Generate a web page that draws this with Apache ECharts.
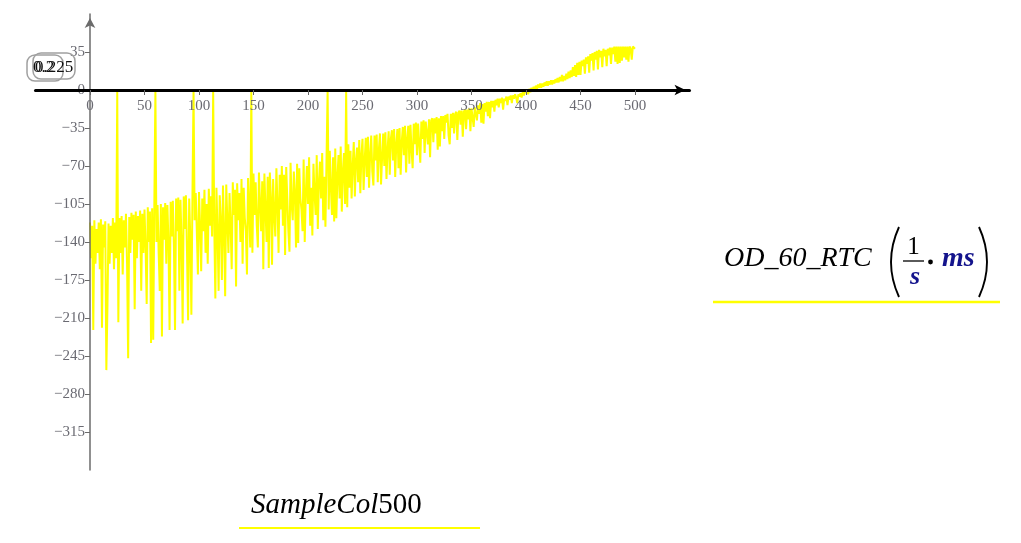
<!DOCTYPE html>
<html>
<head>
<meta charset="utf-8">
<script src="https://cdn.jsdelivr.net/npm/echarts@6/dist/echarts.min.js"></script>
<style>
  html, body { margin: 0; padding: 0; background: #ffffff; }
  #chart { width: 1021px; height: 543px; }
</style>
</head>
<body>
<div id="chart"></div>
<script>
// ---- Data ----
const xTitleItalic = 'SampleCol';
const xTitleUpright = '500';
const yTitle = 'OD_60_RTC';
const yUnitTop = '1';
const yUnitBottom = 's';
const yUnitRight = 'ms';
const traceLabels = ['0.2', '0.225'];

// OD_60_RTC values, one per sample (index 0..500)
const odValues = [
  -122, -155, -125, -221, -120, -160, -128, -150, -122, -165, -119, -219, -124, -145, -121, -258, -200, -123, -160, -125, -150, -118, -165, -122, -155,
  0, -214, -118, -150, -116, -170, -120, -145, -114, -160, -247, -117, -150, -113, -138, -115, -202, -112, -155, -116, -140, -111, -185, -114, -150,
  -110, -145, -197, -108, -140, -112, -233, -109, -230, -107, 0, -140, -106, -150, -185, -105, -227, -108, -138, -104, -160, -106, -140, -221, -103,
  -135, -102, -145, -221, -100, -130, -99, -185, -101, -140, -215, -98, -128, -97, -150, -212, -100, -135, -207, -96, 0, -120, -95, -130, -170,
  -94, -125, -167, -100, -130, -92, -150, -105, -160, -91, -125, -98, -135, 0, -125, -192, -90, -130, -185, -97, -120, -175, -88, -130, -190,
  -87, -120, -150, -95, -125, -165, -85, -115, -92, -181, -86, -120, -95, -140, -82, -160, -90, -118, -130, -170, -81, -110, -145, 0, -150,
  -77, -115, -85, -125, -145, -76, -105, -130, -84, -165, -77, -110, -140, -80, -164, -76, -100, -161, -82, -115, -135, -72, -105, -150, -78,
  -110, -70, -125, -78, -152, -71, -100, -130, -149, -67, -105, -120, -75, -95, -145, -68, -141, -72, -100, -110, -130, -64, -140, -95, -70,
  -105, -62, -125, -90, -134, -68, -95, -115, -60, -128, -85, -66, -100, -58, -120, -80, -126, -63, 0, -110, -56, -90, -115, -62, -121,
  -54, -118, -80, -60, -100, -52, -112, -75, -58, -105, 0, -108, -50, -90, -56, -100, -70, -48, -98, -65, -53, -85, -46, -95, -60,
  -45, -92, -65, -44, -80, -43, -90, -60, -42, -75, -88, -42, -65, -41, -85, -55, -40, -87, -62, -40, -70, -39, -82, -55, -38,
  -78, -45, -37, -65, -36, -80, -50, -36, -72, -35, -78, -48, -34, -60, -33, -76, -45, -33, -68, -32, -55, -72, -31, -50, -30,
  -60, -31, -30, -67, -29, -45, -28, -58, -29, -28, -50, -27, -62, -28, -26, -48, -26, -40, -25, -55, -26, -52, -24, -38, -24,
  -45, -23, -30, -22, -42, -50, -22, -35, -21, -40, -22, -20, -46, -21, -19, -32, -19, -43, -20, -18, -36, -18, -27, -17, -38,
  -17, -16, -34, -16, -15, -28, -14, -22, -12, -30, -13, -31, -12, -20, -11, -24, -11, -26, -10, -16, -10, -20, -9, -14, -8,
  -16, -8, -12, -7, -18, -8, -10, -6, -14, -6, -9, -5, -12, -5, -8, -4, -7, -12, -4, -6, -3, -7, -2, -5, -2,
  -3, 0, -4, 1, -2, 2, -1, 3, 0, 4, 1, 5, 2, 6, 2, 6, 3, 7, 4, 8, 4, 8, 5, 9, 5,
  9, 6, 10, 7, 11, 7, 12, 8, 14, 8, 13, 9, 15, 10, 17, 11, 18, 12, 21, 13, 23, 12, 25, 14, 26,
  14, 27, 22, 28, 15, 30, 24, 31, 16, 33, 27, 34, 18, 35, 28, 36, 19, 37, 30, 36, 21, 38, 31, 37, 22,
  38, 32, 39, 24, 39, 33, 40, 26, 40, 24, 40, 25, 40, 27, 40, 30, 40, 28, 40, 26, 40, 38, 28, 40, 39,
  38
];

// axis settings
const xMin = -50, xMax = 550, xStep = 50;
const yMin = -350, yMax = 70, yStep = 35;

const seriesData = odValues.map((v, i) => [i, v]);

const SERIF = '"Liberation Serif", "DejaVu Serif", serif';
const TICK_COLOR = '#6a6a72';
const NAVY = '#14148c';

function fmt(v) { return String(v).replace('-', '\u2212'); }

// plot frame
const GRID = { left: 35.5, right: 331.5, top: 14, bottom: 73 };
const plotW = 1021 - GRID.left - GRID.right;
const plotH = 543 - GRID.top - GRID.bottom;
// shift axes so they sit on the zero lines
const xAxisOffset = -plotH * (0 - yMin) / (yMax - yMin);
const yAxisOffset = -plotW * (0 - xMin) / (xMax - xMin);

const chart = echarts.init(document.getElementById('chart'), null, { renderer: 'canvas' });

chart.setOption({
  animation: false,
  backgroundColor: '#ffffff',
  grid: Object.assign({ containLabel: false }, GRID),
  xAxis: {
    type: 'value', min: xMin, max: xMax, interval: xStep, z: 5,
    position: 'bottom', offset: xAxisOffset,
    axisLine: { show: true, onZero: false, symbol: ['none', 'arrow'], symbolSize: [8, 11], symbolOffset: [0, -4],
      lineStyle: { color: '#000000', width: 3 } },
    axisTick: { show: true, length: 5, lineStyle: { color: '#666666', width: 1 } },
    axisLabel: { showMinLabel: false, showMaxLabel: false, margin: 9, color: TICK_COLOR, fontFamily: SERIF, fontSize: 15, formatter: fmt },
    splitLine: { show: false }
  },
  yAxis: {
    type: 'value', min: yMin, max: yMax, interval: yStep, z: 4,
    position: 'left', offset: yAxisOffset,
    axisLine: { show: true, onZero: false, symbol: ['none', 'arrow'], symbolSize: [8, 10], symbolOffset: [0, -4],
      lineStyle: { color: '#6b6b6b', width: 1.5 } },
    axisTick: { show: true, length: 5, lineStyle: { color: '#6b6b6b', width: 1 } },
    axisLabel: { showMinLabel: false, showMaxLabel: false, margin: 5, color: TICK_COLOR, fontFamily: SERIF, fontSize: 15, formatter: fmt },
    splitLine: { show: false }
  },
  series: [{
    type: 'line',
    data: seriesData,
    showSymbol: false,
    symbol: 'none',
    lineStyle: { color: '#ffff00', width: 2 },
    z: 2
  }],
  graphic: [
    // trace readout boxes (top-left)
    { type: 'rect', shape: { x: 27, y: 55, width: 36, height: 26, r: 8 }, style: { fill: 'rgba(255,255,255,0)', stroke: '#a0a0a0', lineWidth: 1.5 }, z: 10 },
    { type: 'rect', shape: { x: 33, y: 53, width: 42, height: 26, r: 8 }, style: { fill: 'rgba(255,255,255,0)', stroke: '#a0a0a0', lineWidth: 1.5 }, z: 10 },
    { type: 'text', x: 33, y: 68, style: { text: traceLabels[0], font: '17px ' + SERIF, fill: '#111', verticalAlign: 'middle' }, z: 11 },
    { type: 'text', x: 35, y: 68, style: { text: traceLabels[1], font: '17px ' + SERIF, fill: '#111', verticalAlign: 'middle' }, z: 11 },

    // x title
    { type: 'text', x: 251, y: 505.5, style: {
        text: '{i|' + xTitleItalic + '}{n|' + xTitleUpright + '}',
        verticalAlign: 'middle',
        rich: {
          i: { fontStyle: 'italic', fontFamily: SERIF, fontSize: 29, fill: '#000' },
          n: { fontFamily: SERIF, fontSize: 29, fill: '#000' }
        } }, z: 10 },
    { type: 'line', shape: { x1: 239, y1: 528, x2: 480, y2: 528 }, style: { stroke: '#ffff00', lineWidth: 2 }, z: 10 },

    // y title (right side)
    { type: 'text', x: 724, y: 258.5, style: { text: yTitle, font: 'italic 28px ' + SERIF, fill: '#000', verticalAlign: 'middle' }, z: 10 },
    { type: 'bezierCurve', shape: { x1: 899, y1: 227, cpx1: 883, cpy1: 262, x2: 899, y2: 297 }, style: { stroke: '#000', lineWidth: 1.9, fill: null }, z: 10 },
    { type: 'bezierCurve', shape: { x1: 979, y1: 227, cpx1: 995, cpy1: 262, x2: 979, y2: 297 }, style: { stroke: '#000', lineWidth: 1.9, fill: null }, z: 10 },
    { type: 'text', x: 913.5, y: 247, style: { text: yUnitTop, font: '25px ' + SERIF, fill: '#000', align: 'center', verticalAlign: 'middle' }, z: 10 },
    { type: 'line', shape: { x1: 903, y1: 261, x2: 924, y2: 261 }, style: { stroke: '#000', lineWidth: 1.3 }, z: 10 },
    { type: 'text', x: 915, y: 277, style: { text: yUnitBottom, font: 'italic bold 26px ' + SERIF, fill: NAVY, align: 'center', verticalAlign: 'middle' }, z: 10 },
    { type: 'circle', shape: { cx: 930.5, cy: 262, r: 2.4 }, style: { fill: '#000' }, z: 10 },
    { type: 'text', x: 942, y: 259, style: { text: yUnitRight, font: 'italic bold 28px ' + SERIF, fill: NAVY, verticalAlign: 'middle' }, z: 10 },
    { type: 'line', shape: { x1: 713, y1: 302, x2: 1000, y2: 302 }, style: { stroke: '#ffff00', lineWidth: 2.5 }, z: 10 }
  ]
});
</script>
</body>
</html>
